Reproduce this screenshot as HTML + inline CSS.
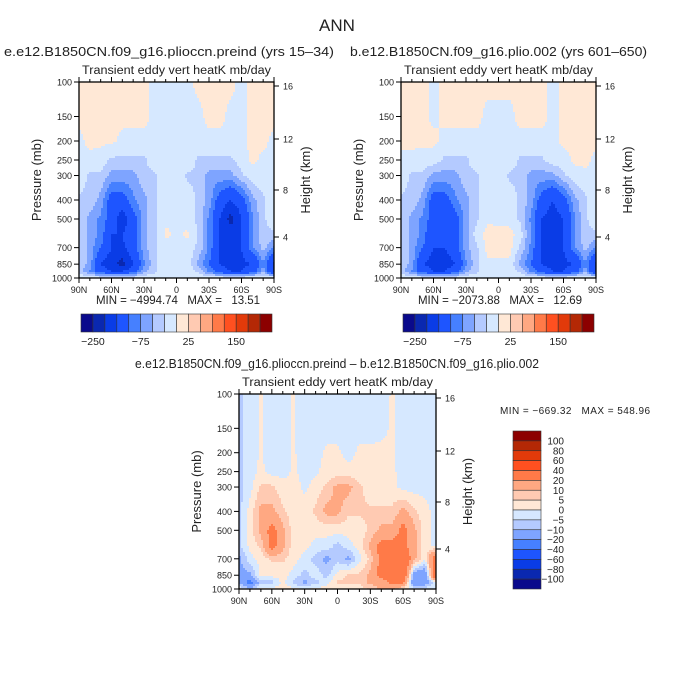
<!DOCTYPE html>
<html><head><meta charset="utf-8">
<style>
html,body{margin:0;padding:0;background:#fff;}
svg{display:block;font-family:"Liberation Sans",sans-serif;}
text{white-space:pre;}
</style></head>
<body>
<svg id="fig" width="675" height="674" viewBox="0 0 675 674" xmlns="http://www.w3.org/2000/svg">
<text x="337" y="31" font-size="17" text-anchor="middle" fill="#222">ANN</text>
<text x="4" y="56" font-size="12.5" textLength="330" lengthAdjust="spacingAndGlyphs" fill="#222">e.e12.B1850CN.f09_g16.plioccn.preind (yrs 15–34)</text>
<text x="350" y="56" font-size="12.5" textLength="297" lengthAdjust="spacingAndGlyphs" fill="#222">b.e12.B1850CN.f09_g16.plio.002 (yrs 601–650)</text>
<text x="135" y="368" font-size="12.5" textLength="404" lengthAdjust="spacingAndGlyphs" fill="#222">e.e12.B1850CN.f09_g16.plioccn.preind – b.e12.B1850CN.f09_g16.plio.002</text>
<g id="root"></g>
</svg>
<script>
const lats = ['90N','80N','70N','60N','50N','40N','30N','20N','10N','0','10S','20S','30S','40S','50S','60S','70S','80S','90S'];
const levels = [100,150,200,250,300,400,500,600,700,850,925,1000];
const xTickLabels = ['90N','60N','30N','0','30S','60S','90S'];
const pTicks = [100,150,200,250,300,400,500,700,850,1000];
const hTicks = [16,12,8,4];
const hTickOffsets = [4,57,108,155];
const absBounds = [-250,-200,-150,-100,-75,-50,-25,0,25,50,75,100,150,200,250];
const absCbLabels = ['-250','-75','25','150'];
const diffBounds = [-100,-80,-60,-40,-20,-10,-5,0,5,10,20,40,60,80,100];
const diffCbLabels = ['100','80','60','40','20','10','5','0','-5','-10','-20','-40','-60','-80','-100'];
const palette = ['#0a0a8c','#0a28b0','#0a3ce6','#1e55ff','#4680ff','#7ea4ff','#b4caff','#d6e8ff','#ffe8d6','#ffcab2','#ffa882','#ff7a48','#ff5020','#e23a0a','#b42805','#8c0000'];

const field1 = [
 [5,5,5,5,5,5,5,-5,-5,-5,-5,5,5,5,5,-5,5,5,5],
 [5,5,5,5,5,5,5,-5,-5,-5,-5,-5,5,5,-5,-5,5,5,5],
 [-5,5,5,5,-5,-5,-5,-5,-5,-5,-5,-5,-5,-5,-5,-5,5,5,-5],
 [-5,-5,-10,-30,-30,-30,-30,-10,-5,-5,-5,-30,-30,-30,-30,-10,5,-5,-5],
 [-10,-30,-30,-60,-60,-60,-30,-30,-5,-5,-30,-30,-60,-60,-60,-30,-10,-5,-5],
 [-30,-30,-60,-120,-120,-80,-60,-30,-5,-5,-10,-30,-60,-120,-150,-120,-60,-30,-10],
 [-30,-60,-80,-120,-180,-120,-60,-30,-5,-5,-10,-30,-80,-150,-220,-150,-80,-30,-10],
 [-30,-60,-80,-150,-150,-120,-60,-30,5,-5,5,-30,-80,-150,-170,-150,-80,-30,-30],
 [-30,-60,-100,-150,-160,-120,-60,-30,-10,-5,-10,-30,-80,-150,-170,-150,-80,-40,-80],
 [-30,-60,-150,-180,-220,-150,-80,-30,-5,-5,-5,-60,-100,-150,-180,-160,-150,-80,-160],
 [-30,-80,-120,-150,-150,-120,-60,-30,-5,-5,-5,-30,-80,-120,-150,-150,-120,-60,-160],
 [-5,-5,-10,-10,-10,-10,-5,-5,-5,-5,-5,-5,-5,-5,-10,-5,-5,5,-5]];
const field2 = [
 [5,5,5,-5,5,5,5,5,5,5,5,5,5,5,-5,5,5,5,5],
 [5,5,5,-5,5,5,5,5,-5,-5,-5,5,5,5,-5,5,5,5,5],
 [5,5,5,5,-5,-5,-5,-5,-5,-5,-5,-5,-5,-5,-5,5,5,5,5],
 [-5,-5,-10,-10,-30,-30,-30,-10,-5,-10,-10,-30,-30,-30,-10,-10,5,5,-5],
 [-10,-30,-30,-60,-60,-60,-30,-30,-5,-10,-30,-30,-60,-60,-60,-30,-10,-5,-5],
 [-30,-30,-60,-120,-120,-80,-60,-30,-5,-5,-10,-30,-60,-120,-150,-120,-60,-30,-10],
 [-30,-60,-80,-120,-150,-120,-60,-30,-5,-5,-10,-30,-80,-150,-170,-150,-80,-30,-10],
 [-30,-60,-80,-150,-150,-120,-60,-10,10,5,10,-10,-80,-150,-170,-150,-80,-30,-30],
 [-30,-60,-100,-150,-150,-120,-60,-30,10,10,10,-30,-80,-150,-170,-150,-80,-40,-80],
 [-30,-60,-150,-170,-180,-150,-80,-30,-5,-5,-5,-60,-100,-150,-170,-160,-150,-80,-160],
 [-30,-80,-120,-150,-150,-120,-60,-30,-5,-5,-5,-30,-80,-120,-150,-150,-120,-60,-160],
 [-5,-5,-10,-10,-10,-10,-5,-5,-5,-5,-5,-5,-5,-5,-10,-5,-5,5,-5]];
const fieldDiff = [
 [-7,-2,0.5,-2,-2,0.5,-2,-2,-2,-2,-2,-2,-2,-2,0.5,-2,-2,-2,-2],
 [-7,-2,0.5,-2,-2,0.5,-2,-2,-2,-2,-2,-2,-2,-1,0.5,-2,-2,-2,-2],
 [-7,-2,0.5,-2,-2,0.5,-2,-2,1,1,-2,1,1,1,0.5,-2,-2,-2,-2],
 [-7,-2,1,-2,-2,1,-2,-1,2,2,2,2,2,1,1,-2,-2,-2,-2],
 [-7,-2,6,6,2,2,-1,2,6,12,12,6,2,2,2,-2,-2,-2,-2],
 [-7,2,12,12,6,2,2,6,12,12,6,6,6,6,6,12,6,2,-2],
 [-7,2,12,25,12,2,2,2,2,2,2,2,6,12,12,25,12,2,-2],
 [-7,2,6,25,12,2,2,-2,-2,-7,-2,2,12,25,25,25,12,2,-2],
 [-12,-2,2,6,6,2,-2,-7,-12,-7,-12,-2,6,25,35,35,12,2,30],
 [-12,-12,2,2,2,-2,-7,-2,-7,2,6,6,12,25,35,35,-15,-20,40],
 [-12,-25,-7,-7,2,-7,-12,-7,-2,6,6,6,12,12,25,25,-20,-15,-2],
 [2,-7,2,2,2,2,-2,2,2,2,2,2,6,12,12,2,-2,-2,-2]];

const NS='http://www.w3.org/2000/svg';
const root=document.getElementById('root');
function mk(tag,attrs,parent){const e=document.createElementNS(NS,tag);for(const k in attrs)e.setAttribute(k,attrs[k]);(parent||root).appendChild(e);return e;}
function colorIdx(v,b){let i=0;while(i<b.length&&v>=b[i])i++;return i;}

function panel(name,x0,y0,w,h,field,bounds){
  const g=mk('g',{});
  
  
  const xS=i=>x0+i*w/(lats.length-1);
  const yP=p=>y0+(Math.log10(p)-2)*h;
  const lp=levels.map(p=>Math.log10(p));
  function val(fx,lpv){
    let j=0;while(j<lp.length-2&&lpv>lp[j+1])j++;
    const t=Math.max(0,Math.min(1,(lpv-lp[j])/(lp[j+1]-lp[j])));
    const i=Math.min(lats.length-2,Math.floor(fx));const s=fx-i;
    const a=field[j][i]*(1-s)+field[j][i+1]*s;
    const b=field[j+1][i]*(1-s)+field[j+1][i+1]*s;
    return a*(1-t)+b*t;
  }
  const cs=2;
  const ny=Math.ceil(h/cs), nx=Math.ceil(w/cs);
  for(let r=0;r<ny;r++){
    const yy=r*cs+cs/2; const lpv=2+yy/h;
    let start=0, cur=null;
    for(let c=0;c<=nx;c++){
      let ci=null;
      if(c<nx){const fx=(c*cs+cs/2)/w*(lats.length-1);ci=colorIdx(val(fx,lpv),bounds);}
      if(c===0){cur=ci;start=0;continue;}
      if(ci!==cur){
        const rc=mk('rect',{x:x0+start*cs,y:y0+r*cs,width:Math.min((c-start)*cs,w-start*cs)+0.5,height:Math.min(cs,h-r*cs)+0.5,fill:palette[cur]},g);
        
        
        cur=ci;start=c;
      }
    }
  }
  const fr=mk('rect',{x:x0,y:y0,width:w,height:h,fill:'none',stroke:'#000','stroke-width':1.3},g);
  
  
  for(let i=0;i<lats.length;i++){
    const major=i%3===0;const L=major?5:3;
    mk('line',{x1:xS(i),x2:xS(i),y1:y0+h,y2:y0+h+L,stroke:'#000'},g);
    mk('line',{x1:xS(i),x2:xS(i),y1:y0,y2:y0-L,stroke:'#000'},g);
  }
  xTickLabels.forEach((lb,k)=>{
    const t=mk('text',{x:xS(k*3),y:y0+h+15,'font-size':9,'text-anchor':'middle',fill:'#222'},g);
    t.textContent=lb;
    
    
  });
  pTicks.forEach(p=>{
    mk('line',{x1:x0-5,x2:x0,y1:yP(p),y2:yP(p),stroke:'#000'},g);
    const t=mk('text',{x:x0-7,y:yP(p)+3.5,'font-size':9,'text-anchor':'end',fill:'#222'},g);
    t.textContent=p;
    
    
  });
  hTicks.forEach((hv,k)=>{
    const y=y0+hTickOffsets[k];
    mk('line',{x1:x0+w,x2:x0+w+5,y1:y,y2:y,stroke:'#000'},g);
    const t=mk('text',{x:x0+w+9,y:y+3.5,'font-size':9,fill:'#222'},g);
    t.textContent=hv;
    
    
  });
  const yt=mk('text',{x:0,y:0,'font-size':13,'text-anchor':'middle',fill:'#222',transform:`translate(${x0-38},${y0+h/2}) rotate(-90)`},g);
  yt.textContent='Pressure (mb)';
  
  
  const yr=mk('text',{x:0,y:0,'font-size':13,'text-anchor':'middle',fill:'#222',transform:`translate(${x0+w+36},${y0+h/2}) rotate(-90)`},g);
  yr.textContent='Height (km)';
  
  
  const st=mk('text',{x:x0+w/2,y:y0-8,'font-size':11.5,'text-anchor':'middle',textLength:w-6,lengthAdjust:'spacingAndGlyphs',fill:'#222'},g);
  st.textContent='Transient eddy vert heatK mb/day';
  
  
}

function hColorbar(x0,y0,w,h){
  const g=mk('g',{});
  
  
  const bw=w/palette.length;
  palette.forEach((c,i)=>{
    const r=mk('rect',{x:x0+i*bw,y:y0,width:bw,height:h,fill:c,stroke:'#333','stroke-width':0.6},g);
    
    
  });
  absCbLabels.forEach((lb,k)=>{
    const t=mk('text',{x:x0+(1+4*k)*bw,y:y0+h+13,'font-size':10.5,'text-anchor':'middle',fill:'#222'},g);
    t.textContent=lb.replace('-','\u2212');
    
    
  });
}
function vColorbar(x0,y0,w,h){
  const g=mk('g',{});
  
  
  const bh=h/palette.length;
  for(let i=0;i<palette.length;i++){
    const r=mk('rect',{x:x0,y:y0+i*bh,width:w,height:bh,fill:palette[palette.length-1-i],stroke:'#333','stroke-width':0.6},g);
    
    
  }
  diffCbLabels.forEach((lb,k)=>{
    const t=mk('text',{x:x0+w+23,y:y0+(k+1)*bh+3.5,'font-size':10,'text-anchor':'end',fill:'#222'},g);
    t.textContent=lb.replace('-','\u2212');
    
    
  });
}
function label(txt,x,y,fs,anchor,name,len){
  const a={x:x,y:y,'font-size':fs,'text-anchor':anchor,fill:'#222'};
  if(len){a.textLength=len;a.lengthAdjust='spacing';}
  const t=mk('text',a);
  t.textContent=txt;
  
  
}

panel('left-panel',79,82,195,196,field1,absBounds);
panel('right-panel',401,82,195,196,field2,absBounds);
panel('diff-panel',239,394,197,195,fieldDiff,diffBounds);
hColorbar(81,314,191,18);
hColorbar(403,314,191,18);
vColorbar(513,431,28,158);
label('MIN = \u22124994.74   MAX =   13.51',96,304,11.5,'start','left-minmax',164);
label('MIN = \u22122073.88   MAX =   12.69',418,304,11.5,'start','right-minmax',164);
label('MIN = \u2212669.32   MAX = 548.96',500,414,10,'start','diff-minmax',150);
</script>
</body></html>
